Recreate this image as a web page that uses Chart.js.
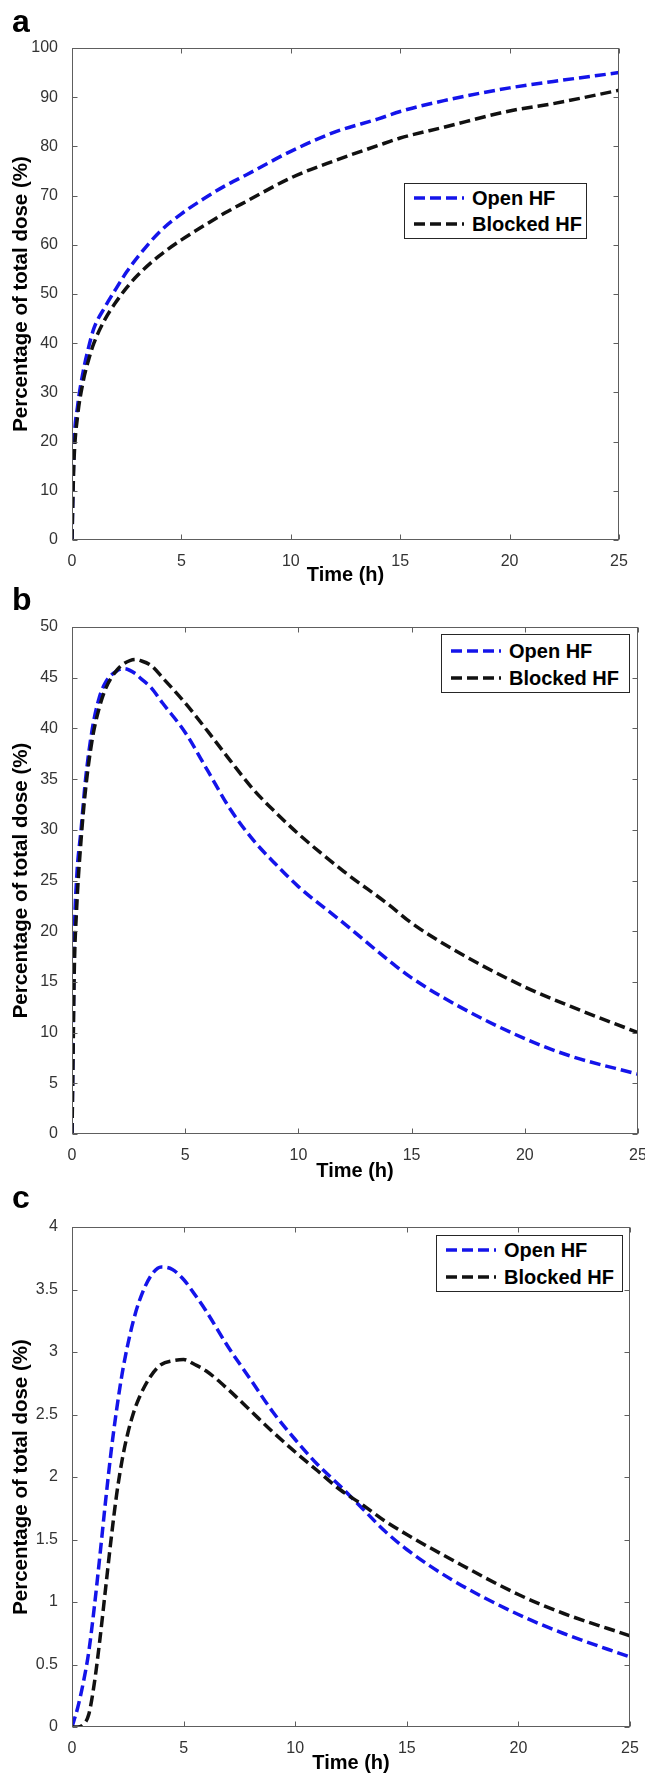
<!DOCTYPE html>
<html>
<head>
<meta charset="utf-8">
<title>Percentage of total dose</title>
<script src="https://cdn.jsdelivr.net/npm/chart.js@4.4.1/dist/chart.umd.min.js"></script>
<style>
  body { margin: 0; background: #fff; width: 645px; height: 1775px; position: relative; overflow: hidden;
         font-family: "Liberation Sans", Arial, sans-serif; }
  canvas { position: absolute; left: 0; }
  .tag { position: absolute; left: 12px; font-weight: bold; font-size: 32px; line-height: 32px; color: #000; }
  .legend { position: absolute; background: #fff; border: 1px solid #262626; box-sizing: border-box; }
  .legend .row { position: absolute; left: 0; right: 0; height: 26px; }
  .legend svg { position: absolute; left: 9px; top: 0; }
  .legend span { position: absolute; left: 67px; top: 0; font-weight: bold; font-size: 20px; line-height: 26px;
                 white-space: nowrap; color: #000; }
</style>
</head>
<body>
<script>
// Data (time in h, percentage of total dose)
const xTicks = [0, 5, 10, 15, 20, 25];
const seriesNames = ['Open HF', 'Blocked HF'];

// a
const timeA = [0, 0.05, 0.1, 0.25, 0.5, 0.75, 1, 1.5, 2, 2.5, 3, 4, 5, 6, 7, 8, 10, 12, 14, 15, 17, 20, 22, 25];
const openA = [0, 12, 20, 27, 34, 39, 43, 47.3, 51, 54.5, 57.5, 62.6, 66.3, 69.3, 72, 74.3, 79, 82.9, 85.6, 87.1, 89.3, 91.9, 93.2, 95];
const blockedA = [0, 10, 17, 25, 32, 36.5, 40, 44.8, 48.3, 51.3, 53.8, 57.8, 61, 63.8, 66.5, 68.9, 73.6, 77.1, 80.2, 81.7, 83.9, 87.2, 88.7, 91.4];
const yTicksA = [0, 10, 20, 30, 40, 50, 60, 70, 80, 90, 100];

// b
const timeB = [0, 0.05, 0.1, 0.2, 0.4, 0.6, 0.9, 1.2, 1.5, 2, 2.3, 2.8, 3, 3.5, 4, 5, 6, 7, 8, 9, 10, 12, 14, 15, 17, 20, 22, 25];
const openB = [0, 10, 19, 25, 30, 35, 40, 43, 44.6, 45.7, 45.9, 45.4, 45, 44, 42.5, 39.6, 35.8, 32, 29, 26.6, 24.4, 20.8, 17.1, 15.4, 12.7, 9.4, 7.7, 5.9];
const blockedB = [0, 8, 16, 22, 29, 34, 39, 42, 44, 45.8, 46.4, 46.8, 46.7, 46.2, 45, 42.5, 39.7, 36.8, 34, 31.7, 29.6, 25.9, 22.6, 20.8, 18, 14.5, 12.6, 10];
const yTicksB = [0, 5, 10, 15, 20, 25, 30, 35, 40, 45, 50];

// c
const timeC = [0, 0.25, 0.5, 0.75, 1, 1.25, 1.5, 1.75, 2, 2.25, 2.5, 2.75, 3, 3.5, 4, 4.5, 5, 5.5, 6, 7, 8, 9, 10, 11, 12, 13, 14, 15, 17, 20, 22, 25];
const openC = [0, 0.15, 0.35, 0.6, 0.96, 1.37, 1.8, 2.2, 2.54, 2.83, 3.06, 3.25, 3.4, 3.6, 3.68, 3.66, 3.58, 3.46, 3.33, 3.04, 2.78, 2.52, 2.3, 2.1, 1.93, 1.75, 1.57, 1.42, 1.18, 0.9, 0.75, 0.56];
const blockedC = [0, 0, 0.02, 0.1, 0.35, 0.7, 1.1, 1.5, 1.86, 2.14, 2.35, 2.51, 2.63, 2.8, 2.9, 2.93, 2.94, 2.9, 2.85, 2.7, 2.53, 2.36, 2.2, 2.05, 1.9, 1.78, 1.65, 1.54, 1.34, 1.06, 0.91, 0.73];
const yTicksC = [0, 0.5, 1, 1.5, 2, 2.5, 3, 3.5, 4];

// Styling
const seriesColors = ['#1414ea', '#111111'];
const dash = [11, 5];
const lineWidth = 3.5;
const frameColor = '#5e5e5e';

Chart.defaults.font.family = '"Liberation Sans", Arial, sans-serif';

// Panel layout (canvas placement, plot margins, legend box)
const panels = [
    { tag: 'a', top: 0, height: 590, padTop: 48, padRight: 26, xHeight: 50, titlePad: 3, tagTop: 5,
      times: timeA, series: [openA, blockedA], yTicks: yTicksA,
      legend: { left: 404, top: 183, width: 183, height: 56, rows: [15, 41] } },
    { tag: 'b', top: 590, height: 595, padTop: 37, padRight: 7, xHeight: 51, titlePad: 2, tagTop: 583,
      times: timeB, series: [openB, blockedB], yTicks: yTicksB,
      legend: { left: 441, top: 634, width: 189, height: 59, rows: [17, 44] } },
    { tag: 'c', top: 1185, height: 590, padTop: 42, padRight: 15, xHeight: 48, titlePad: 0, tagTop: 1181,
      times: timeC, series: [openC, blockedC], yTicks: yTicksC,
      legend: { left: 436, top: 1235, width: 187, height: 57, rows: [15, 42] } }
];

// Box with inward ticks on all four sides, like the original figure
const framePlugin = {
    id: 'frame',
    afterDatasetsDraw(chart) {
        const { ctx, chartArea: a, scales: { x, y } } = chart;
        const L = Math.round(a.left) + 0.5, R = Math.round(a.right) - 0.5;
        const T = Math.round(a.top) + 0.5, B = Math.round(a.bottom) - 0.5;
        ctx.save();
        ctx.strokeStyle = frameColor;
        ctx.lineWidth = 1;
        ctx.beginPath();
        x.ticks.forEach(t => {
            const px = Math.round(x.getPixelForValue(t.value)) + 0.5;
            ctx.moveTo(px, B); ctx.lineTo(px, B - 5);
            ctx.moveTo(px, T); ctx.lineTo(px, T + 5);
        });
        y.ticks.forEach(t => {
            const py = Math.round(y.getPixelForValue(t.value)) + 0.5;
            ctx.moveTo(L, py); ctx.lineTo(L + 5, py);
            ctx.moveTo(R, py); ctx.lineTo(R - 5, py);
        });
        ctx.stroke();
        ctx.strokeRect(L, T, R - L, B - T);
        ctx.restore();
    }
};

function buildPanel(p) {
    const canvas = document.createElement('canvas');
    canvas.width = 645;
    canvas.height = p.height;
    canvas.style.top = p.top + 'px';
    document.body.appendChild(canvas);

    const datasets = p.series.map((values, i) => ({
        label: seriesNames[i],
        data: p.times.map((t, j) => ({ x: t, y: values[j] })),
        borderColor: seriesColors[i],
        borderWidth: lineWidth,
        borderDash: dash,
        pointRadius: 0,
        fill: false,
        cubicInterpolationMode: 'monotone',
        order: i === 0 ? 1 : 0
    }));

    const chart = new Chart(canvas.getContext('2d'), {
        type: 'line',
        data: { datasets },
        options: {
            responsive: false,
            animation: false,
            layout: { padding: { top: p.padTop, right: p.padRight, bottom: 0, left: 0 } },
            plugins: { legend: { display: false }, tooltip: { enabled: false } },
            scales: {
                x: {
                    type: 'linear', min: 0, max: 25,
                    afterBuildTicks: s => { s.ticks = xTicks.map(v => ({ value: v })); },
                    afterFit: s => { s.height = p.xHeight; s.paddingLeft = 0; s.paddingRight = 0; },
                    grid: { display: false },
                    border: { display: false },
                    ticks: { padding: 4, color: '#333', font: { size: 16 }, maxRotation: 0, autoSkip: false,
                             callback: v => String(v) },
                    title: { display: true, text: 'Time (h)', color: '#000',
                             font: { size: 20, weight: 'bold' }, padding: { top: 0, bottom: p.titlePad } }
                },
                y: {
                    type: 'linear', min: p.yTicks[0], max: p.yTicks[p.yTicks.length - 1],
                    afterBuildTicks: s => { s.ticks = p.yTicks.map(v => ({ value: v })); },
                    afterFit: s => { s.width = 72; s.paddingTop = 0; s.paddingBottom = 0; },
                    grid: { display: false },
                    border: { display: false },
                    ticks: { padding: 6, color: '#333', font: { size: 16 }, autoSkip: false,
                             callback: v => String(v) },
                    title: { display: true, text: 'Percentage of total dose (%)', color: '#000',
                             font: { size: 20.5, weight: 'bold' }, padding: { top: 9, bottom: 0 } }
                }
            }
        },
        plugins: [framePlugin]
    });

    // panel letter
    const tag = document.createElement('div');
    tag.className = 'tag';
    tag.style.top = p.tagTop + 'px';
    tag.textContent = p.tag;
    document.body.appendChild(tag);

    // legend box inside the axes
    const box = document.createElement('div');
    box.className = 'legend';
    box.style.left = p.legend.left + 'px';
    box.style.top = p.legend.top + 'px';
    box.style.width = p.legend.width + 'px';
    box.style.height = p.legend.height + 'px';
    chart.data.datasets.forEach((ds, i) => {
        const row = document.createElement('div');
        row.className = 'row';
        row.style.top = (p.legend.rows[i] - 1 - 13) + 'px';
        row.innerHTML =
            `<svg width="50" height="26"><line x1="0" y1="13" x2="50" y2="13" stroke="${ds.borderColor}" ` +
            `stroke-width="${lineWidth}" stroke-dasharray="${dash.join(' ')}"/></svg><span>${ds.label}</span>`;
        box.appendChild(row);
    });
    document.body.appendChild(box);
}

panels.forEach(buildPanel);
</script>
</body>
</html>
